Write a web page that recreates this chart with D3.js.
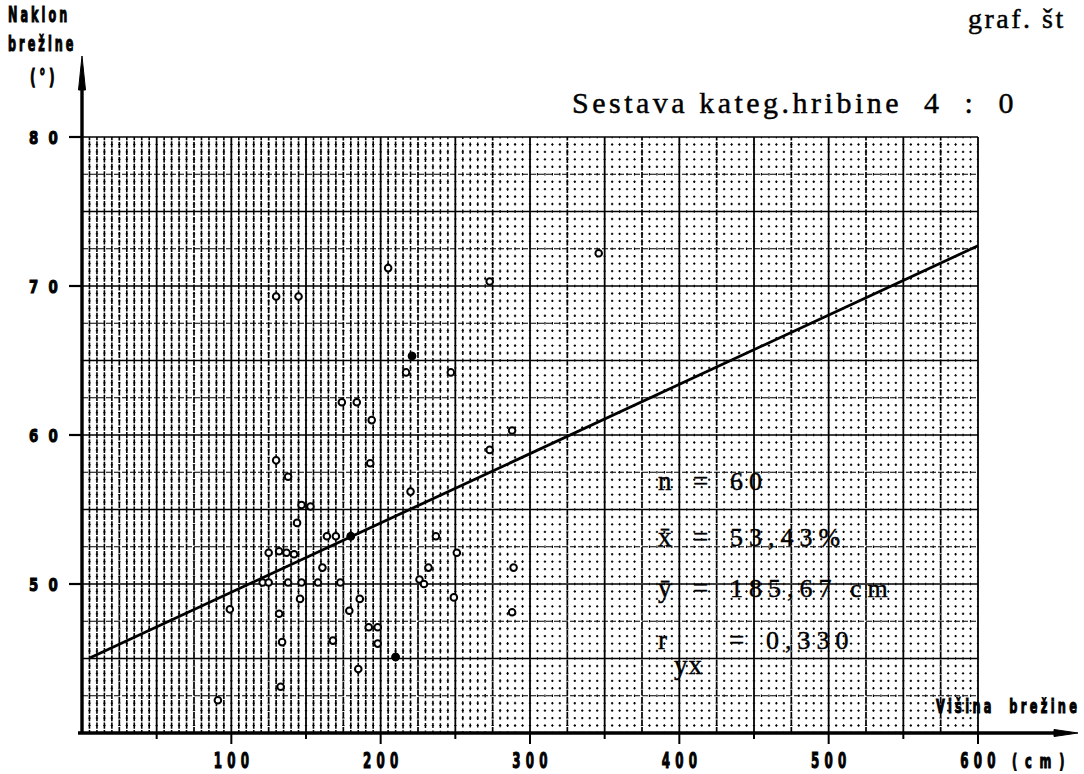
<!DOCTYPE html>
<html>
<head>
<meta charset="utf-8">
<script src="https://cdn.jsdelivr.net/npm/d3@7"></script>
<style>
  html, body { margin: 0; padding: 0; background: #fff; }
  svg { display: block; }
  text { fill: #000; }
</style>
</head>
<body>
<svg id="chart" width="1084" height="774"></svg>
<script>
// Slope height (cm) against slope angle (°), rock category mix 4 : 0
const heightCm = [130, 145, 205, 273, 346, 221, 217, 247, 174, 184,
                  194, 288, 273, 193, 130, 138, 220, 147, 153, 144,
                  164, 170, 180, 237, 125, 132, 137, 142, 161, 232,
                  289, 121, 125, 138, 147, 158, 173, 251, 226, 229,
                  146, 186, 249, 288, 179, 192, 198, 132, 168, 198,
                  134, 210, 185, 133, 91, 99];
const slopeDeg = [69.3, 69.3, 71.2, 70.3, 72.2, 65.3, 64.2, 64.2, 62.2, 62.2,
                  61.0, 60.3, 59.0, 58.1, 58.3, 57.2, 56.2, 55.3, 55.2, 54.1,
                  53.2, 53.2, 53.2, 53.2, 52.1, 52.2, 52.1, 52.0, 51.1, 51.1,
                  51.1, 50.1, 50.1, 50.1, 50.1, 50.1, 50.1, 52.1, 50.3, 50.0,
                  49.0, 49.0, 49.1, 48.1, 48.2, 47.1, 47.1, 48.0, 46.2, 46.0,
                  46.1, 45.1, 44.3, 43.1, 42.2, 48.3];
// solid markers
const solidMarks = [221, 180, 210];
const solidDeg = [65.3, 53.2, 45.1];

// regression line end points [cm, °]
const fitX = [5.5, 600];
const fitY = [45.05, 72.7];

const xTicks = [100, 200, 300, 400, 500, 600];
const xMinor = [50, 150, 250, 350, 450, 550];
const yTicks = [50, 60, 70, 80];

const statNames = ["n", "x\u0304", "y\u0304", "r"];
const statValues = ["60", "53,43%", "185,67 cm", "0,330"];

const svg = d3.select("#chart");
const x = d3.scaleLinear().domain([0, 600]).range([82, 978]);
const y = d3.scaleLinear().domain([40, 80]).range([733, 137]);

// ---------- millimetre paper ----------
const grid = svg.append("g");
const cellY = Math.abs(y(40.5) - y(40));
const cellX = x(5) - x(0);

// fine horizontal rules every 0.5°
d3.range(40.5, 80.01, 0.5).forEach(v => {
  const k = Math.round(v * 2);
  if (k % 5 === 0) return;
  grid.append("line")
    .attr("x1", x(0)).attr("x2", x(600))
    .attr("y1", y(v)).attr("y2", y(v))
    .attr("stroke", "#000").attr("stroke-width", 1)
    .attr("stroke-dasharray", `2.4,${cellX - 2.4}`)
    .attr("stroke-dashoffset", 1.2);
});

// fine vertical rules every 5 cm (heavier print on the left part of the sheet)
d3.range(5, 600.01, 5).forEach(v => {
  if (v % 25 === 0) return;
  const t = Math.max(0, Math.min(1, (v - 200) / 100));
  const L = (cellY - 1.2) - (cellY - 3.6) * t;
  grid.append("line")
    .attr("x1", x(v)).attr("x2", x(v))
    .attr("y1", y(40)).attr("y2", y(80))
    .attr("stroke", "#000").attr("stroke-width", 1.6 - 0.4 * t)
    .attr("stroke-dasharray", `${L},${cellY - L}`)
    .attr("stroke-dashoffset", L / 2);
});

// medium rules: 2.5° and 25 cm
d3.range(42.5, 80.01, 5).forEach(v => {
  grid.append("line")
    .attr("x1", x(0)).attr("x2", x(600))
    .attr("y1", y(v)).attr("y2", y(v))
    .attr("stroke", "#000").attr("stroke-width", 1.2)
    .attr("stroke-dasharray", "6,2");
});
d3.range(25, 600.01, 50).forEach(v => {
  grid.append("line")
    .attr("x1", x(v)).attr("x2", x(v))
    .attr("y1", y(40)).attr("y2", y(80))
    .attr("stroke", "#000").attr("stroke-width", 1.7)
    .attr("stroke-dasharray", "6,1.5");
});

// main rules: 5° and 50 cm
d3.range(45, 80.01, 5).forEach(v => {
  grid.append("line")
    .attr("x1", x(0)).attr("x2", x(600))
    .attr("y1", y(v)).attr("y2", y(v))
    .attr("stroke", "#000").attr("stroke-width", 1.4);
});
d3.range(50, 600.01, 50).forEach(v => {
  grid.append("line")
    .attr("x1", x(v)).attr("x2", x(v))
    .attr("y1", y(40)).attr("y2", y(80))
    .attr("stroke", "#000").attr("stroke-width", 1.8);
});

// ---------- axes ----------
const ax = svg.append("g").attr("stroke", "#000").attr("fill", "#000");
// y axis with arrow
ax.append("line").attr("x1", x(0)).attr("x2", x(0))
  .attr("y1", y(40) + 1).attr("y2", 80).attr("stroke-width", 3.4);
ax.append("path")
  .attr("d", `M${x(0)},56 L${x(0) - 3.5},90 L${x(0) + 3.5},90 Z`)
  .attr("stroke-width", 1);
// x axis with arrow
ax.append("line").attr("x1", x(0) - 4).attr("x2", 1058)
  .attr("y1", y(40)).attr("y2", y(40)).attr("stroke-width", 3.4);
ax.append("path")
  .attr("d", `M1078,${y(40)} L1054,${y(40) - 3.5} L1054,${y(40) + 3.5} Z`)
  .attr("stroke-width", 1);

// ticks
ax.selectAll(".xt").data(xTicks).join("line")
  .attr("x1", d => x(d)).attr("x2", d => x(d))
  .attr("y1", y(40)).attr("y2", y(40) + 11).attr("stroke-width", 2);
ax.selectAll(".xm").data(xMinor).join("line")
  .attr("x1", d => x(d)).attr("x2", d => x(d))
  .attr("y1", y(40)).attr("y2", y(40) + 6).attr("stroke-width", 2);
ax.selectAll(".yt").data(yTicks).join("line")
  .attr("x1", x(0) - 13).attr("x2", x(0))
  .attr("y1", d => y(d)).attr("y2", d => y(d)).attr("stroke-width", 2.2);

// condensed heavy lettering used on the axes
function stencil(px, py, str, size, sx, spacing, anchorShift) {
  const g = svg.append("g")
    .attr("transform", `translate(${px},${py}) scale(${sx},1)`);
  const t = g.append("text")
    .attr("font-family", "DejaVu Sans, sans-serif")
    .attr("font-weight", "bold")
    .attr("font-size", size)
    .attr("letter-spacing", spacing)
    .attr("stroke", "#000").attr("stroke-width", 1.1)
    .style("white-space", "pre")
    .text(str);
  if (anchorShift !== undefined) {
    const w = t.node().getComputedTextLength() - spacing;
    t.attr("x", -w * anchorShift);
  }
  return t;
}

xTicks.forEach(v => stencil(x(v), 768, String(v), 20.5, 0.58, 9, 0.5));
yTicks.forEach(v => stencil(29, y(v) + 6.5, String(v), 18, 0.74, 14, 0));

stencil(1012, 768, "(cm)", 19, 0.6, 13);
stencil(936, 713, "Višina  brežine", 19, 0.6, 5.5);
stencil(8, 22, "Naklon", 20.5, 0.55, 5.5);
stencil(8, 51, "brežine", 20.5, 0.55, 5.5);
stencil(30, 84, "(°)", 20.5, 0.6, 6);

// ---------- regression line ----------
svg.append("path")
  .datum(d3.zip(fitX, fitY))
  .attr("d", d3.line().x(d => x(d[0])).y(d => y(d[1])))
  .attr("fill", "none").attr("stroke", "#000").attr("stroke-width", 2.8);

// ---------- observations ----------
svg.append("g").selectAll("circle")
  .data(d3.zip(heightCm, slopeDeg))
  .join("circle")
  .attr("cx", d => x(d[0])).attr("cy", d => y(d[1]))
  .attr("r", 3.3)
  .attr("fill", "#fff").attr("stroke", "#000").attr("stroke-width", 2);
svg.append("g").selectAll("circle")
  .data(d3.zip(solidMarks, solidDeg))
  .join("circle")
  .attr("cx", d => x(d[0])).attr("cy", d => y(d[1]))
  .attr("r", 4.2).attr("fill", "#000");

// ---------- typed captions ----------
function typed(px, py, str, size, spacing) {
  return svg.append("text")
    .attr("x", px).attr("y", py)
    .attr("font-family", "Liberation Serif, serif")
    .attr("font-size", size)
    .attr("letter-spacing", spacing)
    .attr("stroke", "#000").attr("stroke-width", 0.45)
    .style("white-space", "pre")
    .text(str);
}
typed(968, 28, "graf. št", 28, 2.5);
typed(572, 113, "Sestava kateg.hribine  4  :  0", 30, 3.5);

const rowY = [490, 546, 597, 649];
statNames.forEach((s, i) => typed(658, rowY[i], s, 27, 0));
statNames.forEach((s, i) => typed(i === 3 ? 729 : 693, rowY[i], "=", 27, 0));
statValues.forEach((s, i) => typed(i === 3 ? 766 : 730, rowY[i], s, 26, 6));
typed(674, 674, "yx", 27, 1);
</script>
</body>
</html>
